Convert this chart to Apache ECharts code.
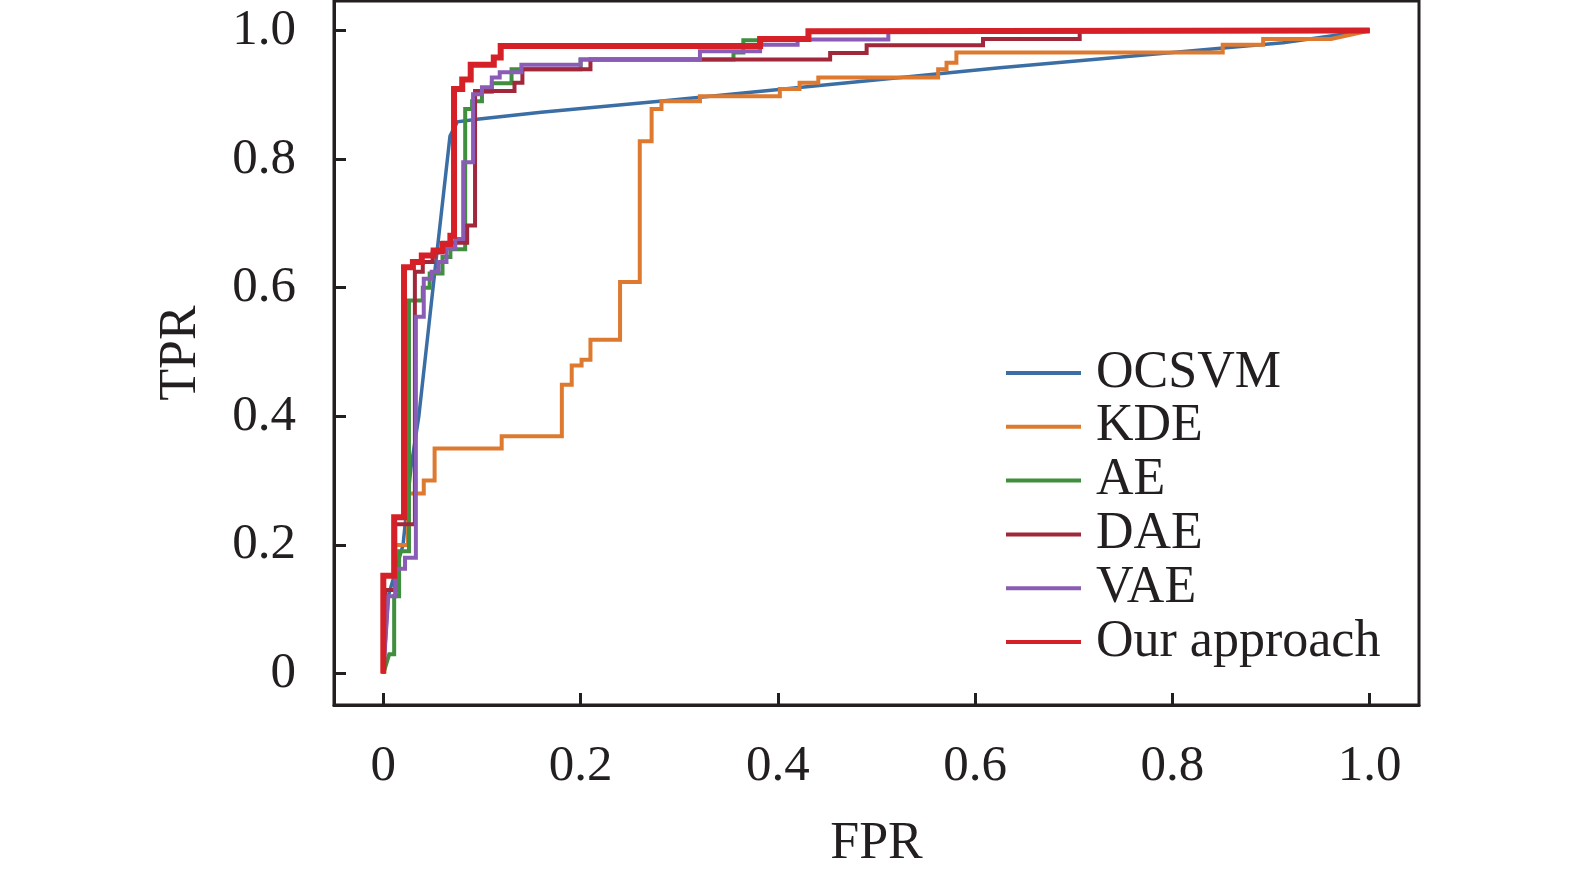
<!DOCTYPE html>
<html>
<head>
<meta charset="utf-8">
<script src="https://cdn.jsdelivr.net/npm/echarts@6/dist/echarts.min.js"></script>
<style>html,body{margin:0;padding:0;background:#fff}#c{width:1575px;height:875px}</style>
</head>
<body>
<div id="c"></div>
<script>
const seriesNames = ['OCSVM', 'KDE', 'AE', 'DAE', 'VAE', 'Our approach'];
const tickValues = [0, 0.2, 0.4, 0.6, 0.8, 1.0];

const ocsvm = [[0,0],[0.005,0.12],[0.02,0.2],[0.028,0.32],[0.036,0.40],[0.054,0.65],[0.0676,0.836],[0.075,0.858],[0.095,0.862],[0.16,0.873],[0.28,0.89],[0.625,0.942],[0.912,0.981],[1,1]];

const kde = [[0,0],[0.002,0.13],[0.012,0.13],[0.012,0.2],[0.025,0.2],[0.025,0.28],[0.041,0.28],[0.041,0.30],[0.052,0.30],[0.052,0.35],[0.12,0.35],[0.12,0.369],[0.181,0.369],[0.181,0.449],[0.191,0.449],[0.191,0.479],[0.201,0.479],[0.201,0.488],[0.21,0.488],[0.21,0.519],[0.24,0.519],[0.24,0.609],[0.26,0.609],[0.26,0.828],[0.272,0.828],[0.272,0.878],[0.282,0.878],[0.282,0.89],[0.321,0.89],[0.321,0.898],[0.402,0.898],[0.402,0.909],[0.422,0.909],[0.422,0.919],[0.441,0.919],[0.441,0.927],[0.5625,0.927],[0.5625,0.94],[0.571,0.94],[0.571,0.95],[0.581,0.95],[0.581,0.966],[0.851,0.966],[0.851,0.978],[0.892,0.978],[0.892,0.987],[0.961,0.987],[1,1]];

const ae = [[0,0],[0.006,0.03],[0.011,0.03],[0.011,0.12],[0.016,0.12],[0.016,0.19],[0.026,0.19],[0.026,0.58],[0.04,0.58],[0.04,0.60],[0.047,0.60],[0.047,0.622],[0.06,0.622],[0.06,0.648],[0.068,0.648],[0.068,0.66],[0.083,0.66],[0.083,0.878],[0.09,0.878],[0.09,0.89],[0.1,0.89],[0.1,0.905],[0.11,0.905],[0.11,0.918],[0.13,0.918],[0.13,0.94],[0.2,0.94],[0.2,0.955],[0.355,0.955],[0.355,0.966],[0.365,0.966],[0.365,0.985],[0.382,0.985],[0.382,0.987],[0.431,0.987],[0.431,0.999],[1,1]];

const dae = [[0,0],[0.002,0.13],[0.012,0.13],[0.012,0.232],[0.032,0.232],[0.032,0.625],[0.04,0.625],[0.04,0.64],[0.05,0.64],[0.05,0.655],[0.06,0.655],[0.06,0.67],[0.085,0.67],[0.085,0.697],[0.093,0.697],[0.093,0.906],[0.133,0.906],[0.133,0.919],[0.141,0.919],[0.141,0.94],[0.21,0.94],[0.21,0.955],[0.453,0.955],[0.453,0.965],[0.49,0.965],[0.49,0.977],[0.608,0.977],[0.608,0.987],[0.706,0.987],[0.706,1.0],[1,1]];

const vae = [[0,0],[0.005,0.12],[0.012,0.12],[0.012,0.163],[0.022,0.163],[0.022,0.18],[0.033,0.18],[0.033,0.555],[0.041,0.555],[0.041,0.614],[0.049,0.614],[0.049,0.625],[0.056,0.625],[0.056,0.64],[0.064,0.64],[0.064,0.661],[0.073,0.661],[0.073,0.676],[0.081,0.676],[0.081,0.795],[0.091,0.795],[0.091,0.901],[0.10,0.901],[0.10,0.912],[0.11,0.912],[0.11,0.927],[0.118,0.927],[0.118,0.935],[0.14,0.935],[0.14,0.947],[0.2,0.947],[0.2,0.955],[0.321,0.955],[0.321,0.968],[0.382,0.968],[0.382,0.978],[0.42,0.978],[0.42,0.986],[0.512,0.986],[0.512,0.998],[1,1]];

const ours = [[0,0],[0,0.152],[0.011,0.152],[0.011,0.243],[0.021,0.243],[0.021,0.632],[0.030,0.632],[0.030,0.640],[0.039,0.640],[0.039,0.650],[0.051,0.650],[0.051,0.658],[0.060,0.658],[0.060,0.668],[0.068,0.668],[0.068,0.681],[0.0717,0.681],[0.0717,0.909],[0.080,0.909],[0.080,0.924],[0.0886,0.924],[0.0886,0.947],[0.112,0.947],[0.112,0.958],[0.119,0.958],[0.119,0.976],[0.382,0.976],[0.382,0.987],[0.431,0.987],[0.431,0.999],[1,1]];

const seriesData = [ocsvm, kde, ae, dae, vae, ours];
const colors = ['#3a6ea5', '#de7a30', '#3f8f3f', '#a0283a', '#8a5cb5', '#d62027'];
const widths = [3.5, 4, 4, 4, 4, 6];

const FONT = 'Liberation Serif';
const INK = '#231f20';

const chart = echarts.init(document.getElementById('c'), null, {renderer: 'canvas'});
chart.setOption({
  animation: false,
  backgroundColor: '#fff',
  grid: {left: 334, right: 156, top: 1, bottom: 167, show: true, borderColor: INK, borderWidth: 3, containLabel: false},
  legend: {
    left: 1001, top: 342, orient: 'vertical', itemWidth: 75, itemHeight: 4, itemGap: 1.8,
    data: seriesNames.map((n, i) => ({name: n, icon: 'rect', itemStyle: {color: colors[i]}})),
    textStyle: {fontFamily: FONT, fontSize: 52, color: INK, lineHeight: 50, padding: [0, 0, 0, 10]}
  },
  xAxis: {
    type: 'value', min: -0.05, max: 1.05,
    name: 'FPR', nameLocation: 'middle', nameGap: 113,
    nameTextStyle: {fontFamily: FONT, fontSize: 52, color: INK},
    axisLine: {show: true, onZero: false, lineStyle: {color: INK, width: 3}},
    axisTick: {show: true, inside: true, length: 12, customValues: tickValues, lineStyle: {color: INK, width: 3}},
    axisLabel: {customValues: tickValues, margin: 36, fontFamily: FONT, fontSize: 51, color: INK,
      formatter: v => v === 0 ? '0' : v.toFixed(1)},
    splitLine: {show: false}
  },
  yAxis: {
    type: 'value', min: -0.049, max: 1.046,
    name: 'TPR', nameLocation: 'middle', nameGap: 127,
    nameTextStyle: {fontFamily: FONT, fontSize: 52, color: INK},
    axisLine: {show: true, onZero: false, lineStyle: {color: INK, width: 3}},
    axisTick: {show: true, inside: true, length: 12, customValues: tickValues, lineStyle: {color: INK, width: 3}},
    axisLabel: {customValues: tickValues, margin: 38, fontFamily: FONT, fontSize: 51, color: INK,
      formatter: v => v === 0 ? '0' : v.toFixed(1)},
    splitLine: {show: false}
  },
  series: seriesNames.map((n, i) => ({
    name: n, type: 'line', data: seriesData[i], showSymbol: false, symbol: 'none',
    lineStyle: {color: colors[i], width: widths[i], join: 'miter'},
    itemStyle: {color: colors[i]},
    z: 2 + i
  }))
});
</script>
</body>
</html>
